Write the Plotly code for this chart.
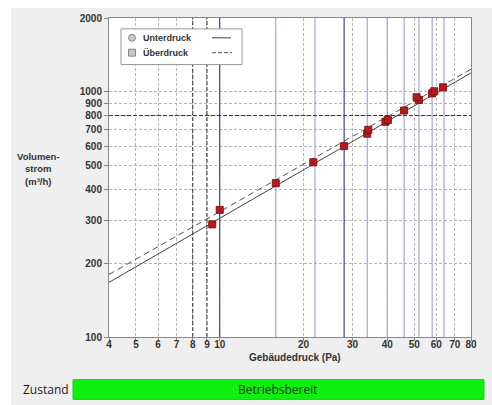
import plotly.graph_objects as go

# Messpunkte (Gebäudedruck in Pa, Volumenstrom in m³/h)
unter_druck = [9.4, 15.9, 21.7, 28.0, 33.9, 39.4, 46.0, 52.0, 58.0, 63.5]
unter_strom = [288, 424, 516, 600, 675, 755, 839, 927, 985, 1043]
ueber_druck = [10.0, 34.2, 40.2, 51.0, 59.0]
ueber_strom = [330, 700, 767, 950, 1005]

# Ausgleichsgeraden (Endpunkte bei 4 und 80 Pa)
fit_druck = [4, 80]
unter_fit = [167, 1194]
ueber_fit = [180, 1236]

# senkrechte Linien an den Messdrücken
mess_linien = [10, 15.9, 22.0, 28.0, 33.9, 40.0, 46.0, 52.0, 58.0, 64.0]
mess_dunkel = [10, 28.0]

x_ticks = [4, 5, 6, 7, 8, 9, 10, 20, 30, 40, 50, 60, 70, 80]
y_ticks = [100, 200, 300, 400, 500, 600, 700, 800, 900, 1000, 2000]

W, H = 492, 405
L, R, T, B = 109, 21, 15, 68
pw, ph = W - L - R, H - T - B


def px(x):
    return (x - L) / pw


def py(y):
    return (H - B - y) / ph


fig = go.Figure()

# blaue Messlinien
for p in mess_linien:
    dark = p in mess_dunkel
    fig.add_trace(go.Scatter(x=[p, p], y=[100, 2000], mode='lines',
                             line=dict(color='#40409a' if dark else '#a4a4e6', width=1.2),
                             hoverinfo='skip', showlegend=False))

# dunkle Hilfslinien
for p in [8, 9]:
    fig.add_trace(go.Scatter(x=[p, p], y=[100, 2000], mode='lines',
                             line=dict(color='#333333', width=1, dash='4px,2px'),
                             hoverinfo='skip', showlegend=False))
fig.add_trace(go.Scatter(x=[4, 80], y=[800, 800], mode='lines',
                         line=dict(color='#333333', width=1, dash='4px,2px'),
                         hoverinfo='skip', showlegend=False))

fig.add_trace(go.Scatter(x=fit_druck, y=ueber_fit, mode='lines', name='Überdruck',
                         line=dict(color='#555555', width=1, dash='6px,4px'), showlegend=False))
fig.add_trace(go.Scatter(x=fit_druck, y=unter_fit, mode='lines', name='Unterdruck',
                         line=dict(color='#444444', width=1), showlegend=False))

fig.add_trace(go.Scatter(x=unter_druck, y=unter_strom, mode='markers', name='Unterdruck',
                         marker=dict(symbol='square', size=7, color='#b21c1c',
                                     line=dict(color='#8a1010', width=1)), showlegend=False))
fig.add_trace(go.Scatter(x=ueber_druck, y=ueber_strom, mode='markers', name='Überdruck',
                         marker=dict(symbol='square', size=7, color='#b21c1c',
                                     line=dict(color='#8a1010', width=1)), showlegend=False))

tick_font = dict(family='Arial', size=10, color='#333333', weight='bold')

fig.update_xaxes(type='log', range=[0.60206, 1.90309], tickvals=x_ticks,
                 ticktext=[str(v) for v in x_ticks], tickfont=tick_font,
                 showgrid=True, gridcolor='#b4b4b4', griddash='3px,2px', gridwidth=1,
                 showline=True, linecolor='#888888', mirror=True,
                 ticks='outside', ticklen=3, tickcolor='#888888', zeroline=False,
                 ticklabelstandoff=-5)
fig.update_yaxes(type='log', range=[2, 3.30103], tickvals=y_ticks,
                 ticktext=[str(v) for v in y_ticks], tickfont=tick_font,
                 showgrid=True, gridcolor='#b4b4b4', griddash='3px,2px', gridwidth=1,
                 showline=True, linecolor='#888888', mirror=True,
                 ticks='outside', ticklen=4, tickcolor='#888888', zeroline=False)

shapes = [
    # weiße Ränder oben/links
    dict(type='rect', xref='paper', yref='paper', x0=px(-5), x1=px(W + 5), y0=py(5), y1=py(-5),
         fillcolor='white', line=dict(width=0), layer='below'),
    dict(type='rect', xref='paper', yref='paper', x0=px(-5), x1=px(11), y0=py(H + 5), y1=py(-5),
         fillcolor='white', line=dict(width=0), layer='below'),
    # Legende
    dict(type='rect', xref='paper', yref='paper', x0=px(121), x1=px(242), y0=py(62), y1=py(26),
         fillcolor='white', line=dict(color='#999999', width=1)),
    dict(type='circle', xref='paper', yref='paper', x0=px(128.5), x1=px(135.5), y0=py(38.5), y1=py(31.5),
         fillcolor='#c8c8c8', line=dict(color='#888888', width=1)),
    dict(type='rect', xref='paper', yref='paper', x0=px(128.5), x1=px(135.5), y0=py(53.5), y1=py(46.5),
         fillcolor='#c8c8c8', line=dict(color='#888888', width=1)),
    dict(type='line', xref='paper', yref='paper', x0=px(212), x1=px(231), y0=py(35), y1=py(35),
         line=dict(color='#444444', width=1)),
    dict(type='line', xref='paper', yref='paper', x0=px(212), x1=px(232), y0=py(50), y1=py(50),
         line=dict(color='#555555', width=1, dash='4px,2px')),
    # Zustandsbalken
    dict(type='rect', xref='paper', yref='paper', x0=px(73), x1=px(484), y0=py(400), y1=py(380),
         fillcolor='#0ef00e', line=dict(color='#22cc22', width=1)),
]

label_font = dict(family='Arial', size=9, color='#333333', weight='bold')
annotations = [
    dict(text='Unterdruck', x=px(141), y=py(35), xref='paper', yref='paper',
         xanchor='left', yanchor='middle', showarrow=False, font=label_font),
    dict(text='Überdruck', x=px(141), y=py(50), xref='paper', yref='paper',
         xanchor='left', yanchor='middle', showarrow=False, font=label_font),
    dict(text='Volumen-<br>strom<br>(m³/h)', x=px(38), y=py(167), xref='paper', yref='paper',
         xanchor='center', yanchor='middle', showarrow=False, align='center',
         font=dict(family='Arial', size=9.5, color='#333333', weight='bold')),
    dict(text='Gebäudedruck (Pa)', x=px(295), y=py(358), xref='paper', yref='paper',
         xanchor='center', yanchor='middle', showarrow=False,
         font=dict(family='Arial', size=10, color='#333333', weight='bold')),
    dict(text='Zustand', x=px(21), y=py(390), xref='paper', yref='paper',
         xanchor='left', yanchor='middle', showarrow=False,
         font=dict(family='Open Sans', size=12, color='#222222')),
    dict(text='Betriebsbereit', x=px(278), y=py(390), xref='paper', yref='paper',
         xanchor='center', yanchor='middle', showarrow=False,
         font=dict(family='Open Sans', size=12, color='#1a3a1a')),
]

fig.update_layout(
    width=W, height=H, autosize=False,
    margin=dict(l=L, r=R, t=T, b=B),
    paper_bgcolor='#efefef', plot_bgcolor='white',
    shapes=shapes, annotations=annotations,
    showlegend=False,
)

fig.write_html("out.html", config={'displayModeBar': False},
               post_script="document.body.style.margin='0px';")
